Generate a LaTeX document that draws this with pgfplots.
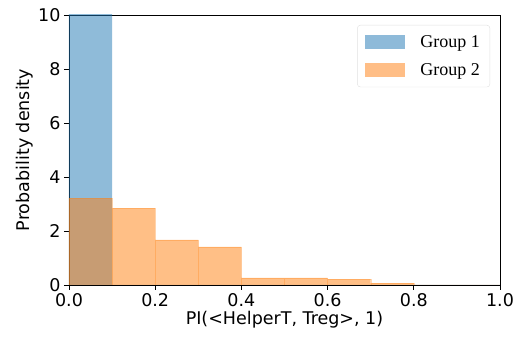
\documentclass[border=0pt]{standalone}
\usepackage{fontspec}
\setmainfont{DejaVu Sans}
\newfontfamily\legendfont{Liberation Serif}
\usepackage{pgfplots}
\pgfplotsset{compat=1.18}
\definecolor{mplblue}{HTML}{1F77B4}
\definecolor{mplorange}{HTML}{FF7F0E}
\begin{document}
\begin{tikzpicture}[x=1pt,y=1pt]
\begin{axis}[
  at={(0,0)}, anchor=south west,
  scale only axis, width=431pt, height=270pt,
  xmin=0, xmax=1, ymin=0, ymax=10,
  xtick={0,0.2,0.4,0.6,0.8,1.0},
  ytick={0,2,4,6,8,10},
  xticklabel style={/pgf/number format/.cd, fixed, fixed zerofill, precision=1},
  /pgf/number format/assume math mode=true,
  tick label style={font=\fontsize{17.5}{20}\selectfont},
  label style={font=\fontsize{17.5}{20}\selectfont},
  xlabel={PI(<HelperT, Treg>, 1)},
  ylabel={Probability density},
  tick align=outside, xtick pos=left, ytick pos=left,
  major tick length=5pt,
  tick style={black, line width=0.8pt},
  axis line style={black, line width=0.8pt},
  xlabel style={yshift=2pt},
  ylabel style={yshift=-2pt},
  legend style={at={(0.977,0.963)}, anchor=north east, draw=black!12, rounded corners=3pt,
    font=\legendfont\fontsize{18}{21}\selectfont, inner xsep=8pt, inner ysep=8pt,
    row sep=11pt, /tikz/every odd column/.append style={column sep=13pt}},
  legend cell align=left,
  clip=true,
]
\addlegendimage{legend image code/.code={\path[fill=mplblue, fill opacity=0.5, draw=none, sharp corners] (0pt,-7pt) rectangle (40pt,7pt);}}
\addlegendentry{Group 1}
\addlegendimage{legend image code/.code={\path[fill=mplorange, fill opacity=0.5, draw=none, sharp corners] (0pt,-7pt) rectangle (40pt,7pt);}}
\addlegendentry{Group 2}
\addplot[forget plot, ybar interval, fill=mplblue, fill opacity=0.5, draw=none]
  coordinates {(0,10.5) (0.1,0) (0.2,0) (0.3,0) (0.4,0) (0.5,0) (0.6,0) (0.7,0) (0.8,0) (0.9,0) (1.0,0)};
\addplot[forget plot, ybar interval, fill=mplorange, fill opacity=0.5, draw=mplorange, draw opacity=0.3, line width=0.4pt]
  coordinates {(0,3.22) (0.1,2.85) (0.2,1.67) (0.3,1.41) (0.4,0.26) (0.5,0.26) (0.6,0.22) (0.7,0.07) (0.8,0) (0.9,0) (1.0,0)};
\end{axis}
\pgfresetboundingbox
\path[use as bounding box] (-69,-57) rectangle (448,285);
\end{tikzpicture}
\end{document}
